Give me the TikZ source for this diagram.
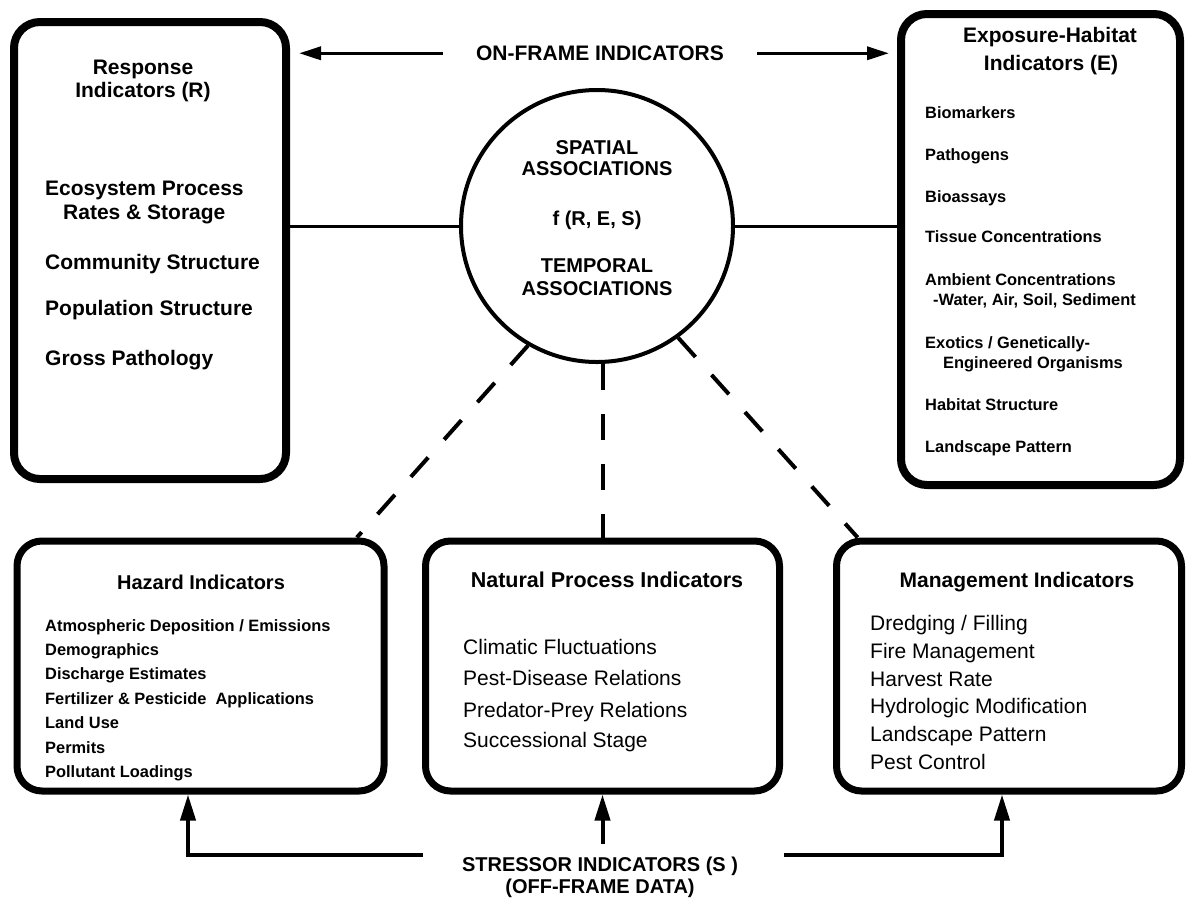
\documentclass[tikz,border=0pt]{standalone}
\usepackage{fontspec}
\setmainfont{Liberation Sans}
\usetikzlibrary{arrows.meta,calc}

\begin{document}
\begin{tikzpicture}[x=1pt, y=-1pt,
  frame/.style={draw, line width=8pt, rounded corners=26pt, inner sep=0pt},
  panel/.style={draw, line width=7pt, rounded corners=25pt, inner sep=0pt},
  hub/.style={draw, circle, line width=4pt, inner sep=0pt, minimum size=272pt},
  lbl/.style={inner sep=0pt, anchor=base},
  lft/.style={inner sep=0pt, anchor=base west},
  ttl/.style={lbl, font=\bfseries\fontsize{21}{25}\selectfont},
  ritem/.style={lft, font=\bfseries\fontsize{21}{25}\selectfont},
  eitem/.style={lft, font=\bfseries\fontsize{16.4}{20}\selectfont},
  hitem/.style={lft, font=\bfseries\fontsize{16.4}{20}\selectfont},
  nitem/.style={lft, font=\fontsize{21}{25}\selectfont},
  caption/.style={lbl, font=\bfseries\fontsize{20}{24}\selectfont},
  link/.style={line width=3pt},
  dlink/.style={line width=4pt, dash pattern=on 26pt off 24pt},
  onarr/.style={line width=3.5pt, -{Triangle[length=22pt,width=13pt]}},
  uparr/.style={line width=4pt, -{Triangle[length=26pt,width=15pt]}}
]
\fill[white] (0,0) rectangle (1186,898);
\useasboundingbox (0,0) rectangle (1186,898);

% ---------- response indicators ----------
\node[frame, minimum width=272pt, minimum height=457pt] (resp) at (150,250.5) {};
\node[ttl] (respA) at (143,74.5) {Response};
\node[ttl] (respB) at (143,97.5) {Indicators (R)};
\node[ritem] (r1) at (45,195.5) {Ecosystem Process};
\node[ritem] (r2) at (63,219.5) {Rates \& Storage};
\node[ritem] (r3) at (45,269.5) {Community Structure};
\node[ritem] (r4) at (45,315.5) {Population Structure};
\node[ritem] (r5) at (45,365.5) {Gross Pathology};

% ---------- exposure-habitat indicators ----------
\node[frame, minimum width=279pt, minimum height=471pt] (expo) at (1040.5,249.5) {};
\node[ttl] (expoA) at (1050,42.5) {Exposure-Habitat};
\node[ttl] (expoB) at (1051,70.5) {Indicators (E)};
\node[eitem] (e1) at (925,118.9) {Biomarkers};
\node[eitem] (e2) at (925,160.9) {Pathogens};
\node[eitem] (e3) at (925,202.9) {Bioassays};
\node[eitem] (e4) at (925,242.9) {Tissue Concentrations};
\node[eitem] (e5) at (925,285.9) {Ambient Concentrations};
\node[eitem] (e6) at (933,305.9) {-Water, Air, Soil, Sediment};
\node[eitem] (e7) at (925,348.9) {Exotics / Genetically-};
\node[eitem] (e8) at (943,368.9) {Engineered Organisms};
\node[eitem] (e9) at (925,410.9) {Habitat Structure};
\node[eitem] (e10) at (925,452.9) {Landscape Pattern};

% ---------- central association circle ----------
\node[hub] (hub) at (597,226) {};
\node[caption] (c1) at (597,154) {SPATIAL};
\node[caption] (c2) at (597,175) {ASSOCIATIONS};
\node[caption] (c3) at (597,225) {f (R, E, S)};
\node[caption] (c4) at (597,272) {TEMPORAL};
\node[caption] (c5) at (597,295) {ASSOCIATIONS};

% ---------- on-frame heading ----------
\node[caption, font=\bfseries\fontsize{21}{25}\selectfont] (onf) at (600,60.5) {ON-FRAME INDICATORS};
\draw[onarr, shorten <=33pt, shorten >=9pt] (onf.west) -- (onf.west -| resp.east);
\draw[onarr, shorten <=33pt, shorten >=8pt] (onf.east) -- (onf.east -| expo.west);

% ---------- solid links to the circle ----------
\draw[link] (resp.east |- hub.west) -- (hub.west);
\draw[link] (hub.east) -- (hub.east -| expo.west);

% ---------- hazard indicators ----------
\node[panel, minimum width=367pt, minimum height=250pt] (haz) at (200.5,666) {};
\node[lbl, font=\bfseries\fontsize{20}{24}\selectfont] (hazT) at (201,589) {Hazard Indicators};
\foreach \t [count=\i from 0] in {{Atmospheric Deposition / Emissions}, Demographics,
    Discharge Estimates, {Fertilizer \& Pesticide~ Applications}, Land Use, Permits,
    Pollutant Loadings}
  \node[hitem] (hz\i) at (45,{631+24.4*\i}) {\t};

% ---------- natural process indicators ----------
\node[panel, minimum width=354pt, minimum height=250pt] (nat) at (602.5,666) {};
\node[lbl, font=\bfseries\fontsize{21.5}{25}\selectfont] (natT) at (607,587.7) {Natural Process Indicators};
\node[nitem] (n1) at (463,654.5) {Climatic Fluctuations};
\node[nitem] (n2) at (463,685.5) {Pest-Disease Relations};
\node[nitem] (n3) at (463,717.5) {Predator-Prey Relations};
\node[nitem] (n4) at (463,747.5) {Successional Stage};

% ---------- management indicators ----------
\node[panel, minimum width=345pt, minimum height=250pt] (mgmt) at (1009,666) {};
\node[ttl] (mgmtT) at (1017,587.5) {Management Indicators};
\foreach \t [count=\i from 0] in {Dredging / Filling, Fire Management, Harvest Rate,
    Hydrologic Modification, Landscape Pattern, Pest Control}
  \node[nitem] (m\i) at (870,{630.5+27.8*\i}) {\t};

% ---------- dashed associations ----------
\draw[dlink] (hub.240) -- ($(haz.north west)!0.918!(haz.north east)$);
\draw[dlink] (nat.north |- hub.south) -- (nat.north);
\draw[dlink] (hub.-54) -- ($(mgmt.north west)!0.07!(mgmt.north east)$);

% ---------- stressor indicators ----------
\node[caption] (stress) at (600,871) {STRESSOR INDICATORS (S )};
\node[caption] (offf) at (600,893) {(OFF-FRAME DATA)};
\coordinate (sL) at (423,855);
\coordinate (sR) at (784,855);
\draw[uparr] (sL) -| ([xshift=-12.5pt]haz.south);
\draw[uparr, shorten <=12pt] (nat.south |- stress.north) -- (nat.south);
\draw[uparr] (sR) -| ([xshift=-7pt]mgmt.south);
\end{tikzpicture}
\end{document}
